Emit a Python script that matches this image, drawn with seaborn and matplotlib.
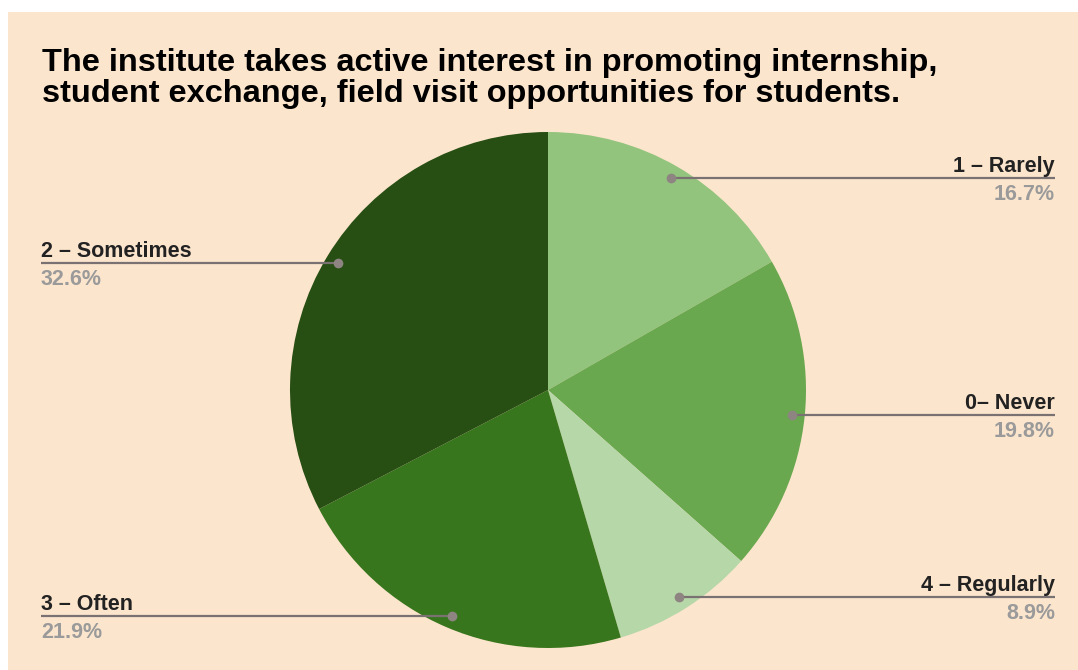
import matplotlib
matplotlib.use("Agg")
import matplotlib.pyplot as plt
from matplotlib.patches import Rectangle
import numpy as np
import seaborn as sns

# Survey responses
categories = ["1 – Rarely", "0– Never", "4 – Regularly", "3 – Often", "2 – Sometimes"]
shares = [16.7, 19.8, 8.9, 21.9, 32.6]
slice_colors = ["#93C47D", "#6AA84F", "#B6D7A8", "#38761D", "#274E13"]
title_lines = [
    "The institute takes active interest in promoting internship,",
    "student exchange, field visit opportunities for students.",
]

sns.set_theme(style="white")
plt.rcParams["font.family"] = ["Liberation Sans", "DejaVu Sans"]

W, H = 1078, 670
fig = plt.figure(figsize=(W / 100, H / 100), dpi=100, facecolor="white")
fig.patches.append(Rectangle((8 / W, 0), 1 - 8 / W, 1 - 12 / H,
                             transform=fig.transFigure, facecolor="#FCE5CD",
                             edgecolor="none", zorder=-10))

# Pie placed with centre at (548, 390) px and radius 258 px
cx, cy, R = 548, 390, 258
ax = fig.add_axes([(cx - R) / W, (H - cy - R) / H, 2 * R / W, 2 * R / H])
ax.set_zorder(5)
ax.set_facecolor("none")
wedges, _ = ax.pie(shares, colors=slice_colors, startangle=90, counterclock=False,
                   radius=1, wedgeprops=dict(linewidth=0))
ax.set_xlim(-1, 1)
ax.set_ylim(-1, 1)
ax.set_aspect("equal")
ax.axis("off")

px = 1 / R
right_x = (1055 - cx) * px
left_x = (41 - cx) * px
for w, name, val in zip(wedges, categories, shares):
    mid = np.deg2rad((w.theta1 + w.theta2) / 2)
    dx, dy = 0.95 * np.cos(mid), 0.95 * np.sin(mid)
    end_x = right_x if dx > 0 else left_x
    ha = "right" if dx > 0 else "left"
    ax.plot([dx, end_x], [dy, dy], color="#7a7272", lw=1.6, clip_on=False,
            solid_capstyle="butt", zorder=3)
    ax.plot([dx], [dy], "o", ms=7, color="#8e8482", clip_on=False, zorder=4,
            markeredgewidth=0)
    ax.text(end_x, dy + 6 * px, name, ha=ha, va="baseline", fontsize=15.5,
            fontweight="bold", color="#222222", clip_on=False)
    ax.text(end_x, dy - 6 * px, f"{val:.1f}%", ha=ha, va="top", fontsize=15.5,
            fontweight="bold", color="#9a9a9a", clip_on=False)

for line, base in zip(title_lines, [71, 102]):
    fig.text(42 / W, 1 - base / H, line, ha="left", va="baseline",
             fontsize=23.4, fontweight="bold", color="#000000")

fig.savefig("out.png", dpi=100, facecolor=fig.get_facecolor())
